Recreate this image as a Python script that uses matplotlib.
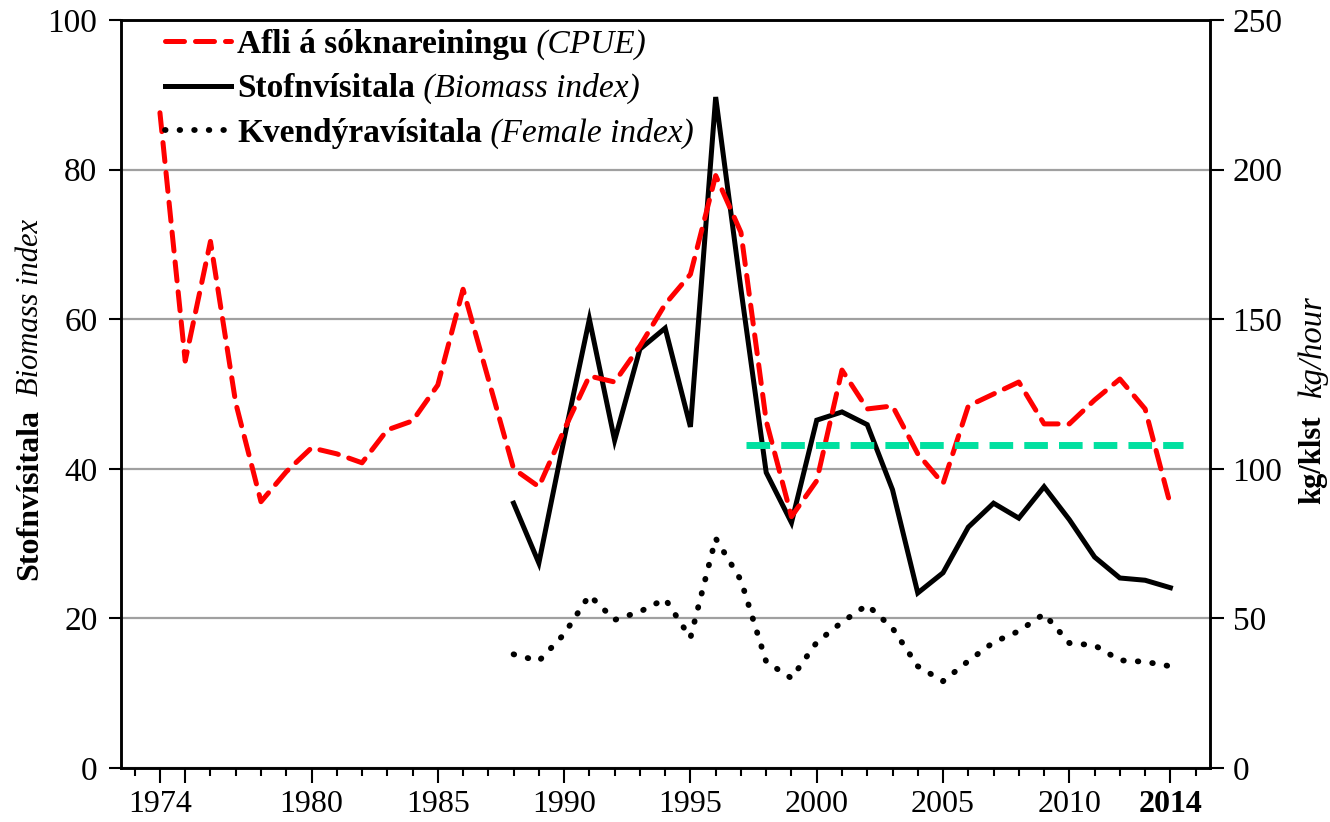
import numpy as np
import matplotlib
matplotlib.use("Agg")
import matplotlib.pyplot as plt
from matplotlib.ticker import MultipleLocator, FixedLocator

plt.rcParams['font.family'] = ['Liberation Serif', 'DejaVu Serif']

# --- datos ---
anos_cpue = list(range(1974, 2015))
cpue = [219, 136, 176, 122, 89, 99, 107, 105, 102, 113, 116, 128, 160, 130,
        100, 94, 113, 131, 129, 141, 155, 165, 198, 179, 116, 84, 96, 133,
        120, 121, 105, 95, 121, 125, 129, 115, 115, 123, 130, 120, 88]

anos_stofn = list(range(1988, 2015))
stofn = [35.4, 27.4, 44.0, 60.0, 43.8, 56.0, 58.8, 45.6, 89.7, 64.0, 39.5,
         32.8, 46.5, 47.6, 45.9, 37.2, 23.4, 26.1, 32.2, 35.4, 33.4, 37.6,
         33.2, 28.2, 25.4, 25.1, 24.1]
kvendyr = [15.2, 14.3, 17.9, 23.1, 19.8, 20.9, 22.6, 17.4, 30.7, 25.1, 14.2,
           12.0, 16.8, 19.5, 21.8, 18.7, 13.6, 11.6, 14.3, 16.8, 18.3, 20.6,
           16.7, 16.4, 14.4, 14.2, 13.6]

# viðmið (linea verde)
vidmid_x = [1997.2, 2014.5]
vidmid_y = [108, 108]

fig = plt.figure(figsize=(13.3, 8.22), dpi=100)
ax = fig.add_axes([0.091, 0.0657, 0.819, 0.910])
ax2 = ax.twinx()

# eje izquierdo: índices
ax.plot(anos_stofn, stofn, color='black', lw=3.6, solid_joinstyle='miter',
        label='Stofnvísitala', zorder=3)
ax.plot(anos_stofn, kvendyr, color='black', lw=4.2, linestyle=(0, (0.1, 2.4)),
        dash_capstyle='round', label='Kvendýravísitala', zorder=3)

# eje derecho: CPUE
ax2.plot(anos_cpue, cpue, color='#ff0000', lw=3.6, linestyle=(0, (3.8, 2.2)),
         dash_capstyle='round', label='Afli á sóknareiningu', zorder=3)
ax2.plot(vidmid_x, vidmid_y, color='#00e0a0', lw=5.0, linestyle=(0, (3.4, 1.6)),
         zorder=4)

ax.set_xlim(1972.46, 2015.58)
ax.set_ylim(0, 100)
ax2.set_ylim(0, 250)

ax.yaxis.set_major_locator(MultipleLocator(20))
ax2.yaxis.set_major_locator(MultipleLocator(50))
ax.xaxis.set_major_locator(FixedLocator([1974, 1975, 1980, 1985, 1990, 1995,
                                         2000, 2005, 2010, 2014]))
ax.xaxis.set_minor_locator(MultipleLocator(1))
ax.set_xticklabels(['1974', '', '1980', '1985', '1990', '1995', '2000',
                    '2005', '2010', '2014'])
for lbl in ax.get_xticklabels():
    if lbl.get_text() == '2014':
        lbl.set_fontweight('bold')

ax.grid(axis='y', color='#a0a0a0', lw=1.6, zorder=0)
ax.set_axisbelow(True)

for a in (ax, ax2):
    for s in a.spines.values():
        s.set_linewidth(1.8)
        s.set_color('black')

ax.tick_params(axis='x', which='major', direction='out', length=11, width=1.5,
               labelsize=23, pad=5)
ax.tick_params(axis='x', which='minor', direction='out', length=6, width=1.5)
ax.tick_params(axis='y', direction='out', length=9, width=1.5, labelsize=24, pad=8)
ax2.tick_params(axis='y', direction='out', length=10, width=1.5, labelsize=24, pad=6)

# etiquetas de los ejes
t1 = fig.text(0.0226, 0.399, 'Stofnvísitala', rotation=90, fontsize=23,
              fontweight='bold', ha='center', va='center')
ax.annotate('Biomass index', xy=(0.5, 1), xycoords=t1, xytext=(0, 9),
            textcoords='offset points', rotation=90, fontsize=22,
            style='italic', ha='center', va='bottom')
t2 = fig.text(0.987, 0.4404, 'kg/klst', rotation=90, fontsize=22,
              fontweight='bold', ha='center', va='center')
ax2.annotate('kg/hour', xy=(0.5, 1), xycoords=t2, xytext=(0, 13),
             textcoords='offset points', rotation=90, fontsize=23.5,
             style='italic', ha='center', va='bottom')

# leyenda
h1 = ax2.get_lines()[0]
h2, h3 = ax.get_lines()
leg = ax2.legend([h1, h2, h3], ['Afli á sóknareiningu', 'Stofnvísitala',
                                 'Kvendýravísitala'],
                 loc='upper left', bbox_to_anchor=(0.040, 0.988), frameon=False,
                 prop={'weight': 'bold', 'size': 24}, handlelength=2.0,
                 handletextpad=0.18, labelspacing=0.4, borderaxespad=0,
                 borderpad=0)
extra = ['(CPUE)', '(Biomass index)', '(Female index)']
for txt, e in zip(leg.get_texts(), extra):
    ax2.annotate(' ' + e, xy=(1, 0), xycoords=txt, fontsize=24, style='italic',
                 ha='left', va='bottom', zorder=6)

fig.savefig('out.png', dpi=100)
